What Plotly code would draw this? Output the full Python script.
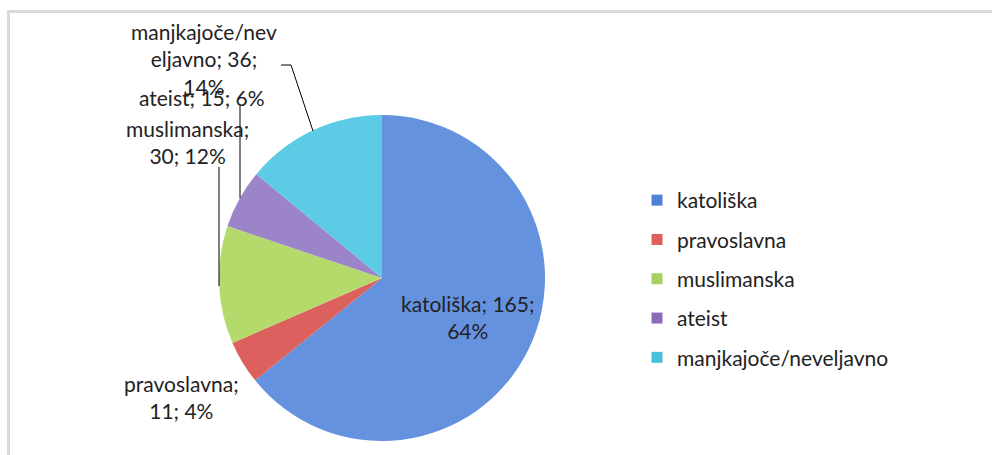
import plotly.graph_objects as go

W, H = 992, 455

categories = ["katoliška", "pravoslavna", "muslimanska", "ateist", "manjkajoče/neveljavno"]
values = [165, 11, 30, 15, 36]
colors = ["#6592df", "#dc605d", "#b5da6c", "#9c84c8", "#5ccbe6"]
legend_colors = ["#4f82d6", "#e0605c", "#a8d060", "#8a6cb8", "#48bfdc"]
# label text lines as Excel wrapped them
label_lines = {
    "katoliška": ["katoliška; 165;", "64%"],
    "pravoslavna": ["pravoslavna;", "11; 4%"],
    "muslimanska": ["muslimanska;", "30; 12%"],
    "ateist": ["ateist; 15; 6%"],
    "manjkajoče/neveljavno": ["manjkajoče/nev", "eljavno; 36;", "14%"],
}

FONT = "Lato"
TXT = "#222222"
FS = 21


def px(x):
    return x / W


def py(y):
    return 1 - y / H


cx, cy, r = 382, 278, 163

fig = go.Figure()
fig.add_trace(go.Pie(
    labels=categories,
    values=values,
    sort=False,
    direction="clockwise",
    rotation=0,
    marker=dict(colors=colors, line=dict(width=0)),
    textinfo="none",
    showlegend=False,
    hoverinfo="label+value+percent",
    domain=dict(x=[px(cx - r), px(cx + r)], y=[py(cy + r), py(cy - r)]),
))

# legend entries
for cat, col in zip(categories, legend_colors):
    fig.add_trace(go.Scatter(
        x=[None], y=[None], mode="markers", name=cat, legendgroup=cat,
        marker=dict(symbol="square", size=11, color=col,
                    line=dict(width=0)),
        showlegend=True, hoverinfo="skip",
    ))

# data labels
label_pos = {
    "katoliška": (467, 317),
    "pravoslavna": (181, 397),
    "muslimanska": (187, 142),
    "ateist": (202, 97),
    "manjkajoče/neveljavno": (204, 59),
}
annotations = []
for cat, (x, y) in label_pos.items():
    annotations.append(dict(
        x=px(x), y=py(y), xref="paper", yref="paper",
        text="<br>".join(label_lines[cat]), showarrow=False,
        xanchor="center", yanchor="middle", align="center",
        font=dict(family=FONT, size=FS, color=TXT),
    ))

def path(points):
    return "M " + " L ".join(f"{px(x)},{py(y)}" for x, y in points)

leaders = [
    [(281, 65), (291, 65), (313, 131)],
    [(240, 106), (240, 198)],
    [(219, 167), (219, 286)],
]
shapes = [dict(type="path", xref="paper", yref="paper", path=path(p),
               line=dict(color="#000000", width=1)) for p in leaders]
# chart-area border
shapes.append(dict(type="rect", xref="paper", yref="paper",
                   x0=px(8.5), x1=px(W + 10), y0=py(H + 10), y1=py(11.5),
                   line=dict(color="#d9d9d9", width=3)))

fig.update_layout(
    width=W, height=H,
    margin=dict(l=0, r=0, t=0, b=0),
    paper_bgcolor="white", plot_bgcolor="white",
    xaxis=dict(visible=False), yaxis=dict(visible=False),
    annotations=annotations, shapes=shapes,
    legend=dict(x=px(637), y=py(180), xanchor="left", yanchor="top",
                font=dict(family=FONT, size=FS, color=TXT),
                tracegroupgap=9, itemclick=False, itemdoubleclick=False,
                bgcolor="rgba(0,0,0,0)"),
    font=dict(family=FONT),
)

fig.write_html("out.html")
